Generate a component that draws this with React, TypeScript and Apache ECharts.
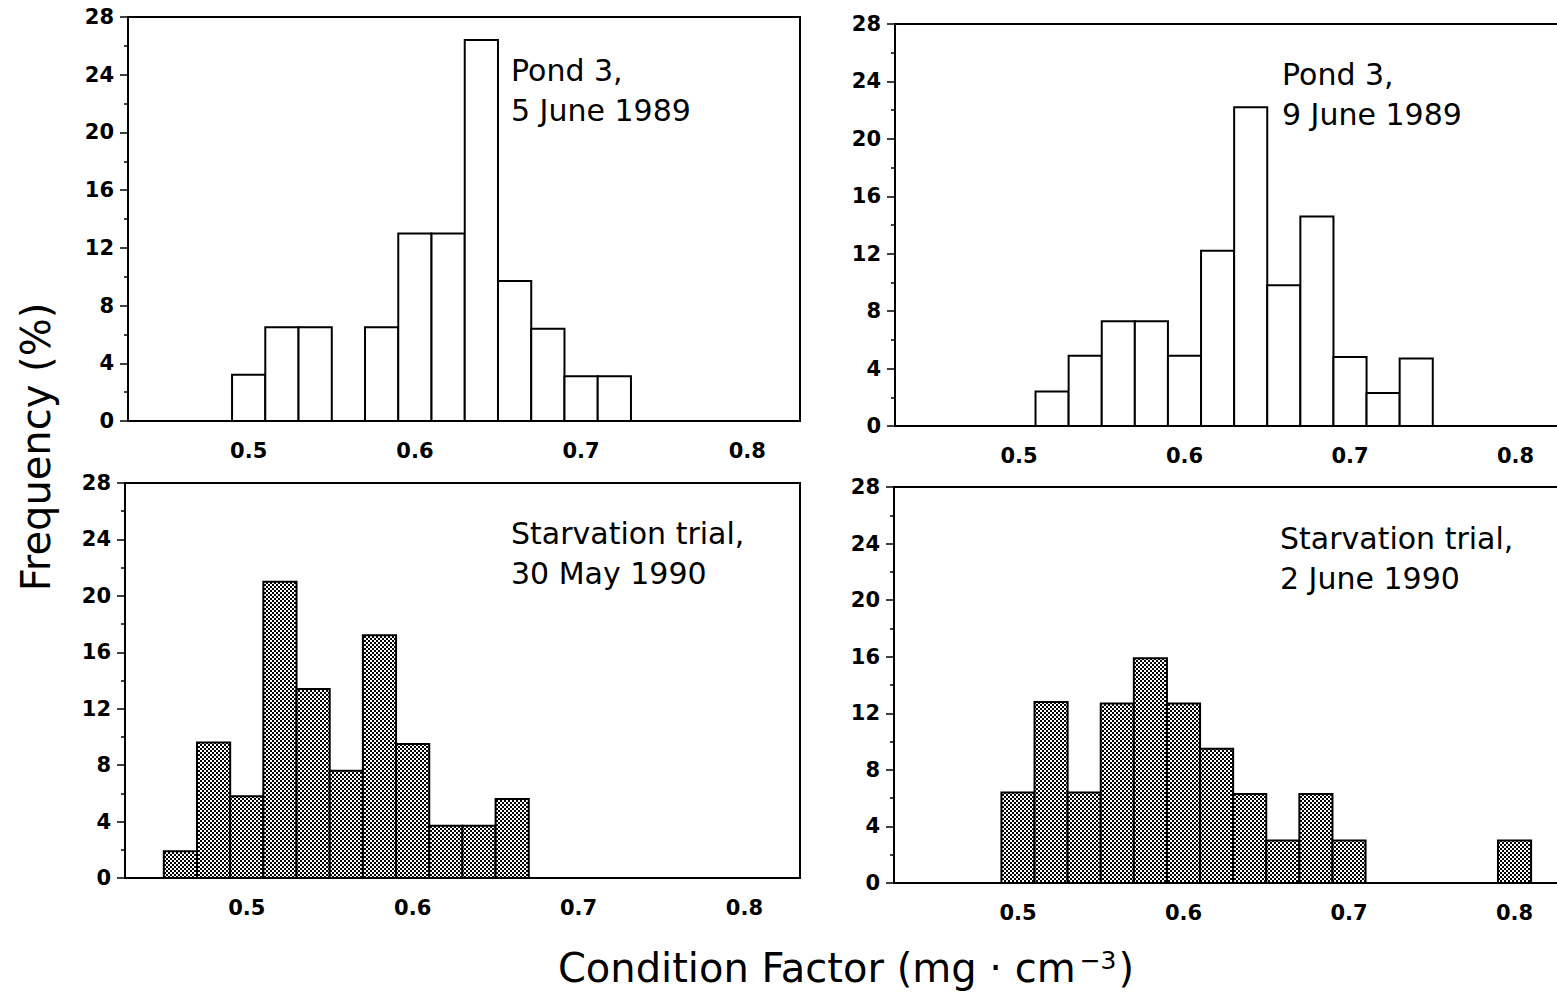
import React, { useEffect, useRef } from "react";
import * as echarts from "echarts";

// ---- data (bin centres of width 0.02, frequency in %) ----
const BIN_WIDTH = 0.02;

const pond5JuneBins = [0.5, 0.52, 0.54, 0.58, 0.6, 0.62, 0.64, 0.66, 0.68, 0.7, 0.72];
const pond5JuneFreq = [3.2, 6.5, 6.5, 6.5, 13.0, 13.0, 26.4, 9.7, 6.4, 3.1, 3.1];

const pond9JuneBins = [0.52, 0.54, 0.56, 0.58, 0.6, 0.62, 0.64, 0.66, 0.68, 0.7, 0.72, 0.74];
const pond9JuneFreq = [2.4, 4.9, 7.3, 7.3, 4.9, 12.2, 22.2, 9.8, 14.6, 4.8, 2.3, 4.7];

const starve30MayBins = [0.46, 0.48, 0.5, 0.52, 0.54, 0.56, 0.58, 0.6, 0.62, 0.64, 0.66];
const starve30MayFreq = [1.9, 9.6, 5.8, 21.0, 13.4, 7.6, 17.2, 9.5, 3.7, 3.7, 5.6];

const starve2JuneBins = [0.5, 0.52, 0.54, 0.56, 0.58, 0.6, 0.62, 0.64, 0.66, 0.68, 0.7, 0.8];
const starve2JuneFreq = [6.4, 12.8, 6.4, 12.7, 15.9, 12.7, 9.5, 6.3, 3.0, 6.3, 3.0, 3.0];

const xTickValues = [0.5, 0.6, 0.7, 0.8];
const yMax = 28;
const yInterval = 4;

const panelLabels = [
  ["Pond 3,", "5 June 1989"],
  ["Pond 3,", "9 June 1989"],
  ["Starvation trial,", "30 May 1990"],
  ["Starvation trial,", "2 June 1990"],
];
const yTitle = "Frequency (%)";

// ---- layout ----
const FONT = '"DejaVu Sans", "Liberation Sans", sans-serif';
const CHART_W = 1620;
const grids = [
  { left: 128, top: 17, width: 672, height: 404, min: 0.4274, max: 0.8317 },
  { left: 895, top: 24, width: 673, height: 402, min: 0.4251, max: 0.8317 },
  { left: 125, top: 483, width: 675, height: 395, min: 0.4266, max: 0.8335 },
  { left: 894, top: 487, width: 674, height: 396, min: 0.4251, max: 0.8323 },
];
const labelPos = [
  { x: 511, y: 50 },
  { x: 1282, y: 54 },
  { x: 511, y: 513 },
  { x: 1280, y: 518 },
];

export default function App() {
  const ref = useRef<HTMLDivElement>(null);

  useEffect(() => {
    if (!ref.current) return;
    const chart = echarts.init(ref.current, null, { renderer: "svg" });

    const c = document.createElement("canvas");
    c.width = 4;
    c.height = 4;
    const ctx = c.getContext("2d")!;
    ctx.fillStyle = "#ffffff";
    ctx.fillRect(0, 0, 4, 4);
    ctx.fillStyle = "#000000";
    ctx.fillRect(0, 0, 2, 2);
    ctx.fillRect(2, 2, 2, 2);
    const hatch: any = {
      image: c.toDataURL(),
      repeat: "repeat",
      imageWidth: 4,
      imageHeight: 4,
    };

    const datasets = [
      { bins: pond5JuneBins, freq: pond5JuneFreq, fill: "#ffffff" },
      { bins: pond9JuneBins, freq: pond9JuneFreq, fill: "#ffffff" },
      { bins: starve30MayBins, freq: starve30MayFreq, fill: hatch },
      { bins: starve2JuneBins, freq: starve2JuneFreq, fill: hatch },
    ];

    const option: any = {
      animation: false,
      backgroundColor: "#ffffff",
      grid: grids.map((g) => ({
        left: g.left,
        top: g.top,
        width: g.width,
        height: g.height,
        show: true,
        borderColor: "#000",
        borderWidth: 2,
        backgroundColor: "transparent",
        containLabel: false,
      })),
      xAxis: grids.map((g, i) => ({
        type: "value",
        gridIndex: i,
        min: g.min,
        max: g.max,
        axisLine: { show: true, lineStyle: { color: "#000", width: 2 } },
        axisTick: { show: false },
        splitLine: { show: false },
        axisLabel: {
          customValues: xTickValues,
          formatter: (v: number) => v.toFixed(1),
          color: "#000",
          fontFamily: FONT,
          fontWeight: "bold",
          fontSize: 21,
          margin: 19,
        },
      })),
      yAxis: grids.map((g, i) => ({
        type: "value",
        gridIndex: i,
        min: 0,
        max: yMax,
        interval: yInterval,
        axisLine: { show: true, lineStyle: { color: "#000", width: 2 } },
        axisTick: { show: true, inside: false, length: 8, lineStyle: { color: "#000", width: 1.5 } },
        minorTick: { show: true, splitNumber: 2, length: 4, lineStyle: { color: "#000", width: 1.5 } },
        splitLine: { show: false },
        minorSplitLine: { show: false },
        axisLabel: {
          color: "#000",
          fontFamily: FONT,
          fontWeight: "bold",
          fontSize: 21,
          margin: 14,
        },
      })),
      series: datasets.map((d, i) => ({
        type: "custom",
        xAxisIndex: i,
        yAxisIndex: i,
        encode: { x: 0, y: 1 },
        data: d.bins.map((b, j) => [b, d.freq[j]]),
        renderItem: (params: any, api: any) => {
          const x = api.value(0);
          const y = api.value(1);
          const p0 = api.coord([x - BIN_WIDTH / 2, y]);
          const p1 = api.coord([x + BIN_WIDTH / 2, 0]);
          return {
            type: "rect",
            shape: { x: p0[0], y: p0[1], width: p1[0] - p0[0], height: p1[1] - p0[1] },
            style: { fill: d.fill, stroke: "#000", lineWidth: 2 },
          };
        },
      })),
      graphic: [
        ...panelLabels.map((lines, i) => ({
          type: "text",
          left: labelPos[i].x,
          top: labelPos[i].y,
          z: 100,
          style: {
            text: lines.join("\n"),
            font: `30px ${FONT}`,
            lineHeight: 40,
            fill: "#000",
          },
        })),
        {
          type: "text",
          x: 36,
          y: 447,
          rotation: Math.PI / 2,
          style: {
            text: yTitle,
            font: `40px ${FONT}`,
            fill: "#000",
            align: "center",
            verticalAlign: "middle",
          },
        },
        {
          type: "text",
          x: 846,
          y: 968,
          style: {
            text: "{a|Condition Factor (mg · cm}{s|−3}{a|)}",
            align: "center",
            verticalAlign: "middle",
            fill: "#000",
            rich: {
              a: { fontFamily: FONT, fontSize: 40, fill: "#000", verticalAlign: "bottom" },
              s: { fontFamily: FONT, fontSize: 25, fill: "#000", verticalAlign: "top", padding: [0, 2, 0, 4] },
            },
          },
        },
      ],
    };

    chart.setOption(option);
    return () => chart.dispose();
  }, []);

  return (
    <div
      style={{
        position: "absolute",
        left: 0,
        top: 0,
        width: 1557,
        height: 994,
        overflow: "hidden",
      }}
    >
      <div ref={ref} style={{ width: CHART_W, height: 994 }} />
    </div>
  );
}
